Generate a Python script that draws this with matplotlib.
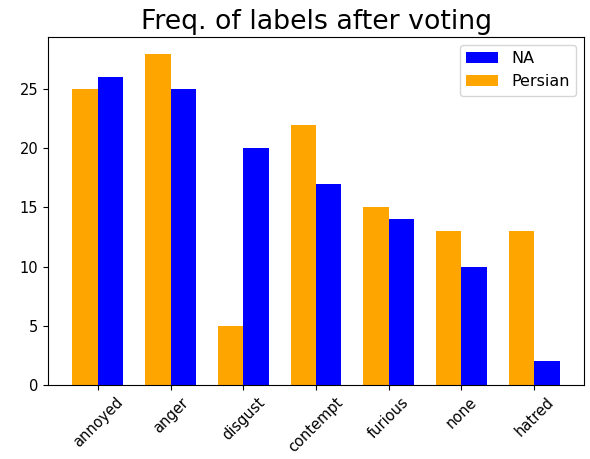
import matplotlib
matplotlib.use("Agg")
import matplotlib.pyplot as plt
import numpy as np

# 数据
labels = ["annoyed", "anger", "disgust", "contempt", "furious", "none", "hatred"]
na_counts = [26, 25, 20, 17, 14, 10, 2]
persian_counts = [25, 28, 5, 22, 15, 13, 13]

x = np.arange(len(labels))
width = 0.35

fig, ax = plt.subplots(figsize=(5.9, 4.59), dpi=100)
fig.subplots_adjust(left=0.0814, right=0.9898, top=0.9194, bottom=0.1612)

ax.bar(x + width / 2, na_counts, width, color="blue", label="NA")
ax.bar(x - width / 2, persian_counts, width, color="orange", label="Persian")

ax.set_xticks(x)
ax.set_xticklabels(labels, rotation=45)
ax.tick_params(axis="both", labelsize=10.5)
ax.set_title("Freq. of labels after voting", fontsize=19.3)
ax.legend(loc="upper right", fontsize=11.5)

fig.savefig("out.png", dpi=100)
